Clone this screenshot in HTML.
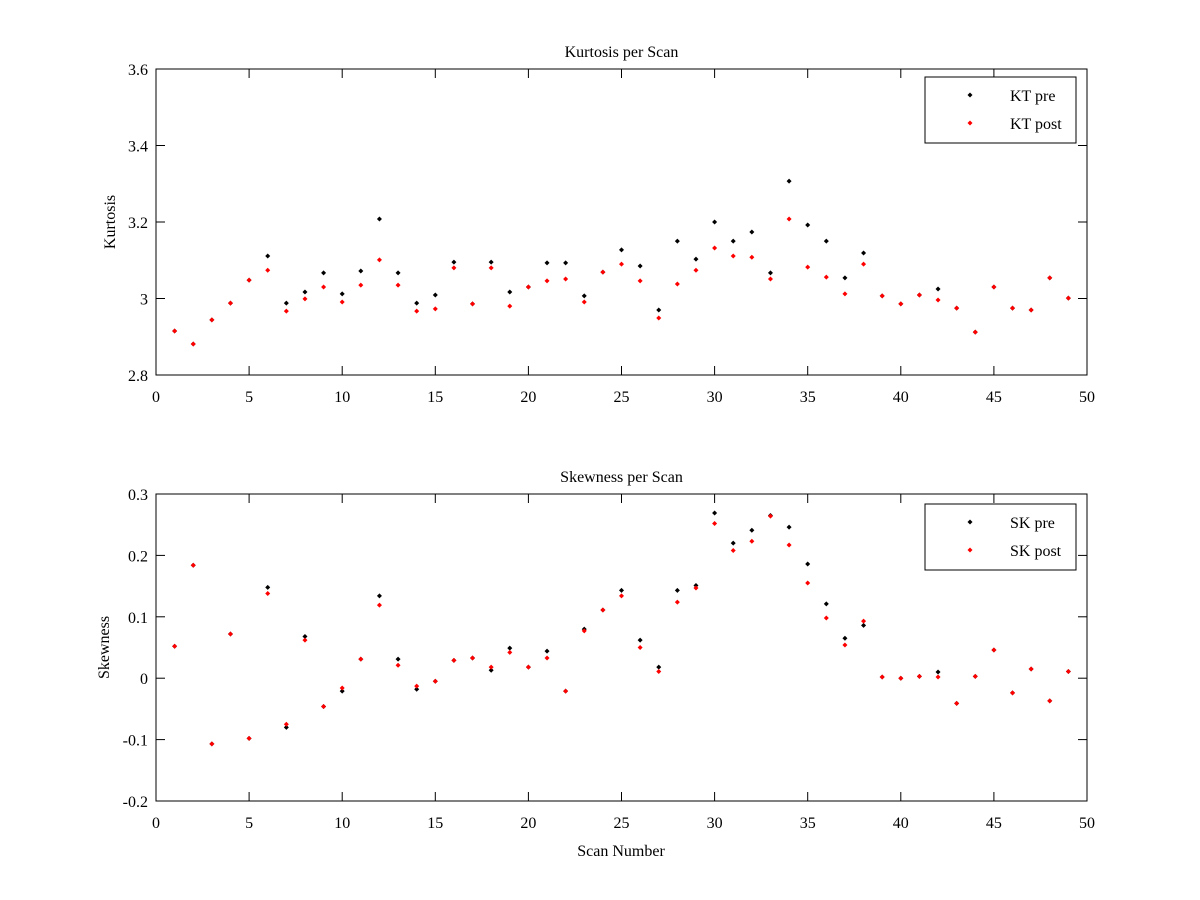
<!DOCTYPE html>
<html><head><meta charset="utf-8"><style>
html,body{margin:0;padding:0;background:#fff;}
svg{display:block;font-family:"Liberation Serif",serif;}
</style></head><body>
<svg id="chart" width="1200" height="900" viewBox="0 0 1200 900" xmlns="http://www.w3.org/2000/svg">
<rect width="1200" height="900" fill="#fff"/>
</svg>
<script>
const scans = [];
for (let i = 1; i <= 49; i++) scans.push(i);
const ktPre = [2.915,2.881,2.944,2.988,3.048,3.111,2.988,3.017,3.067,3.012,3.072,3.208,3.067,2.988,3.009,3.095,2.986,3.095,3.017,3.030,3.093,3.093,3.007,3.069,3.127,3.085,2.970,3.150,3.103,3.200,3.150,3.174,3.067,3.307,3.192,3.150,3.054,3.119,3.007,2.986,3.009,3.025,2.975,2.912,3.030,2.975,2.970,3.054,3.001];
const ktPost = [2.915,2.881,2.944,2.988,3.048,3.074,2.967,2.999,3.030,2.991,3.035,3.101,3.035,2.967,2.973,3.080,2.986,3.080,2.980,3.030,3.046,3.051,2.991,3.069,3.090,3.046,2.949,3.038,3.074,3.132,3.111,3.108,3.051,3.208,3.082,3.056,3.012,3.090,3.007,2.986,3.009,2.996,2.975,2.912,3.030,2.975,2.970,3.054,3.001];
const skPre = [0.052,0.184,-0.107,0.072,-0.098,0.148,-0.080,0.068,-0.046,-0.021,0.031,0.134,0.031,-0.018,-0.005,0.029,0.033,0.013,0.049,0.018,0.044,-0.021,0.080,0.111,0.143,0.062,0.018,0.143,0.151,0.269,0.220,0.241,0.265,0.246,0.186,0.121,0.065,0.086,0.002,0.000,0.003,0.010,-0.041,0.003,0.046,-0.024,0.015,-0.037,0.011];
const skPost = [0.052,0.184,-0.107,0.072,-0.098,0.138,-0.075,0.062,-0.046,-0.016,0.031,0.119,0.021,-0.013,-0.005,0.029,0.033,0.018,0.042,0.018,0.033,-0.021,0.077,0.111,0.134,0.050,0.011,0.124,0.147,0.252,0.208,0.223,0.264,0.217,0.155,0.098,0.054,0.093,0.002,0.000,0.003,0.002,-0.041,0.003,0.046,-0.024,0.015,-0.037,0.011];
const xTicks = [0,5,10,15,20,25,30,35,40,45,50];
const ktTicks = [2.8,3.0,3.2,3.4,3.6];
const ktTickLabels = ["2.8","3","3.2","3.4","3.6"];
const skTicks = [-0.2,-0.1,0,0.1,0.2,0.3];
const skTickLabels = ["-0.2","-0.1","0","0.1","0.2","0.3"];

const svg = document.getElementById('chart');
const NS = 'http://www.w3.org/2000/svg';
function mk(tag, attrs, parent){ const e=document.createElementNS(NS,tag); for(const k in attrs) e.setAttribute(k,attrs[k]); (parent||svg).appendChild(e); return e; }

function panel(cfg){
  const L=156,R=1087,T=cfg.top,B=cfg.bottom;
  const xs=v=>L+(v-0)/(50-0)*(R-L);
  const ys=v=>B-(v-cfg.ymin)/(cfg.ymax-cfg.ymin)*(B-T);
  const g=mk('g',{});
  
  
  mk('rect',{x:L,y:T,width:R-L,height:B-T,fill:'#fff',stroke:'#000','stroke-width':1},g);
  xTicks.forEach(t=>{
    const x=xs(t);
    mk('line',{x1:x,y1:B,x2:x,y2:B-9,stroke:'#000'},g);
    mk('line',{x1:x,y1:T,x2:x,y2:T+9,stroke:'#000'},g);
    const tx=mk('text',{x:x,y:B+27,'text-anchor':'middle','font-size':16},g);
    tx.textContent=t;
    
    
  });
  cfg.ticks.forEach((t,i)=>{
    const y=ys(t);
    mk('line',{x1:L,y1:y,x2:L+9,y2:y,stroke:'#000'},g);
    mk('line',{x1:R,y1:y,x2:R-9,y2:y,stroke:'#000'},g);
    const tx=mk('text',{x:L-8,y:y+6,'text-anchor':'end','font-size':16},g);
    tx.textContent=cfg.labels[i];
    
    
  });
  const ti=mk('text',{x:(L+R)/2,y:T-12,'text-anchor':'middle','font-size':16},g);
  ti.textContent=cfg.title;
  
  
  const yl=mk('text',{x:0,y:0,'text-anchor':'middle','font-size':16,transform:`translate(${cfg.ylx},${(T+B)/2}) rotate(-90)`},g);
  yl.textContent=cfg.ylabel;
  
  
  function dot(x,y,color){
    const d=mk('path',{d:`M${x} ${y-2.5}L${x+2.5} ${y}L${x} ${y+2.5}L${x-2.5} ${y}Z`,fill:color},g);
    return d;
  }
  scans.forEach((s,i)=>{
    const p=dot(xs(s),ys(cfg.pre[i]),'#000');
    
    
  });
  scans.forEach((s,i)=>{
    const p=dot(xs(s),ys(cfg.post[i]),'#f00');
    
    
  });
  const lg=mk('g',{},g);
  
  
  const ly=cfg.legTop;
  mk('rect',{x:925,y:ly,width:151,height:66,fill:'#fff',stroke:'#000'},lg);
  dot(970,ly+18,'#000'); dot(970,ly+46,'#f00');
  const t1=mk('text',{x:1010,y:ly+24,'font-size':16},lg); t1.textContent=cfg.leg[0];
  
  
  const t2=mk('text',{x:1010,y:ly+52,'font-size':16},lg); t2.textContent=cfg.leg[1];
  
  
}
panel({name:'kurtosis-panel',top:69,bottom:375,ymin:2.8,ymax:3.6,ticks:ktTicks,labels:ktTickLabels,title:'Kurtosis per Scan',ylabel:'Kurtosis',ylx:115,pre:ktPre,post:ktPost,legTop:77,leg:['KT pre','KT post']});
panel({name:'skewness-panel',top:494,bottom:801,ymin:-0.2,ymax:0.3,ticks:skTicks,labels:skTickLabels,title:'Skewness per Scan',ylabel:'Skewness',ylx:109,pre:skPre,post:skPost,legTop:504,leg:['SK pre','SK post']});
const xl=mk('text',{x:621,y:856,'text-anchor':'middle','font-size':16});
xl.textContent='Scan Number';


</script>
</body></html>
